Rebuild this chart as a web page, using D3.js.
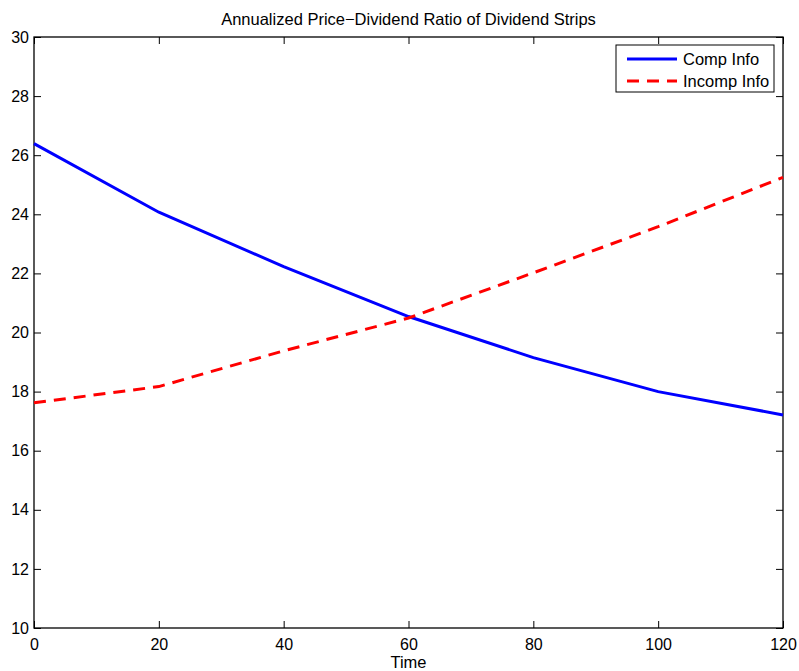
<!doctype html>
<html>
<head>
<script src="https://d3js.org/d3.v7.min.js"></script>
<style>
  body { margin: 0; background: #fff; }
  text { font-family: "Liberation Sans", Arial, Helvetica, sans-serif; }
</style>
</head>
<body>
<div class="graph"></div>
<script>
var times = [0, 20, 40, 60, 80, 100, 120];
var compInfo = [26.39, 24.07, 22.23, 20.54, 19.15, 18.0, 17.21];
var incompInfo = [17.62, 18.17, 19.38, 20.49, 22.02, 23.58, 25.25];
var xTicks = [0, 20, 40, 60, 80, 100, 120];
var yTicks = [10, 12, 14, 16, 18, 20, 22, 24, 26, 28, 30];
var seriesNames = ['Comp Info', 'Incomp Info'];

var width = 799, height = 671;
var plotLeft = 34, plotRight = 783, plotTop = 37, plotBottom = 628;

var svg = d3.select('.graph').append('svg')
  .attr('width', width)
  .attr('height', height);

var x = d3.scaleLinear().domain([0, 120]).range([plotLeft, plotRight]);
var y = d3.scaleLinear().domain([10, 30]).range([plotBottom, plotTop]);

// axes, ticks inward like matlab
var tickLen = 7;
svg.append('g').attr('transform', 'translate(0,' + plotBottom + ')')
  .call(d3.axisBottom(x).tickValues(xTicks).tickSize(-tickLen).tickPadding(11))
  .call(function(g) {
    g.select('.domain').remove();
    g.selectAll('text').attr('font-size', 16).attr('fill', '#000');
    g.selectAll('line').attr('stroke', '#000');
  });
svg.append('g').attr('transform', 'translate(0,' + plotTop + ')')
  .call(d3.axisTop(x).tickValues(xTicks).tickSize(-tickLen).tickFormat(''))
  .call(function(g) { g.select('.domain').remove(); g.selectAll('line').attr('stroke', '#000'); });
svg.append('g').attr('transform', 'translate(' + plotLeft + ',0)')
  .call(d3.axisLeft(y).tickValues(yTicks).tickSize(-tickLen).tickPadding(5))
  .call(function(g) {
    g.select('.domain').remove();
    g.selectAll('text').attr('font-size', 16).attr('fill', '#000');
    g.selectAll('line').attr('stroke', '#000');
  });
svg.append('g').attr('transform', 'translate(' + plotRight + ',0)')
  .call(d3.axisRight(y).tickValues(yTicks).tickSize(-tickLen).tickFormat(''))
  .call(function(g) { g.select('.domain').remove(); g.selectAll('line').attr('stroke', '#000'); });

svg.append('rect')
  .attr('x', plotLeft).attr('y', plotTop)
  .attr('width', plotRight - plotLeft).attr('height', plotBottom - plotTop)
  .attr('fill', 'none').attr('stroke', '#000').attr('stroke-width', 1.3);

var line = d3.line().x(function(d) { return x(d[0]); }).y(function(d) { return y(d[1]); });

svg.append('path')
  .datum(d3.zip(times, compInfo))
  .attr('d', line)
  .attr('fill', 'none').attr('stroke', '#0000ff').attr('stroke-width', 3);

svg.append('path')
  .datum(d3.zip(times, incompInfo))
  .attr('d', line)
  .attr('fill', 'none').attr('stroke', '#ff0000').attr('stroke-width', 3)
  .attr('stroke-dasharray', '12,8');

// title and label
svg.append('text')
  .attr('x', (plotLeft + plotRight) / 2).attr('y', 25)
  .attr('text-anchor', 'middle').attr('font-size', 16.5)
  .text('Annualized Price\u2212Dividend Ratio of Dividend Strips');
svg.append('text')
  .attr('x', (plotLeft + plotRight) / 2).attr('y', 668)
  .attr('text-anchor', 'middle').attr('font-size', 16.5)
  .text('Time');

// legend
var legend = svg.append('g');
legend.append('rect')
  .attr('x', 616).attr('y', 45).attr('width', 158).attr('height', 47)
  .attr('fill', '#fff').attr('stroke', '#000').attr('stroke-width', 1);
var colors = ['#0000ff', '#ff0000'];
var dashes = [null, '12,8'];
seriesNames.forEach(function(name, i) {
  var ly = 59 + i * 22;
  legend.append('line')
    .attr('x1', 627).attr('x2', 677).attr('y1', ly).attr('y2', ly)
    .attr('stroke', colors[i]).attr('stroke-width', 3)
    .attr('stroke-dasharray', dashes[i]);
  legend.append('text')
    .attr('x', 683).attr('y', ly + 6)
    .attr('font-size', 16.5)
    .text(name);
});
</script>
</body>
</html>
